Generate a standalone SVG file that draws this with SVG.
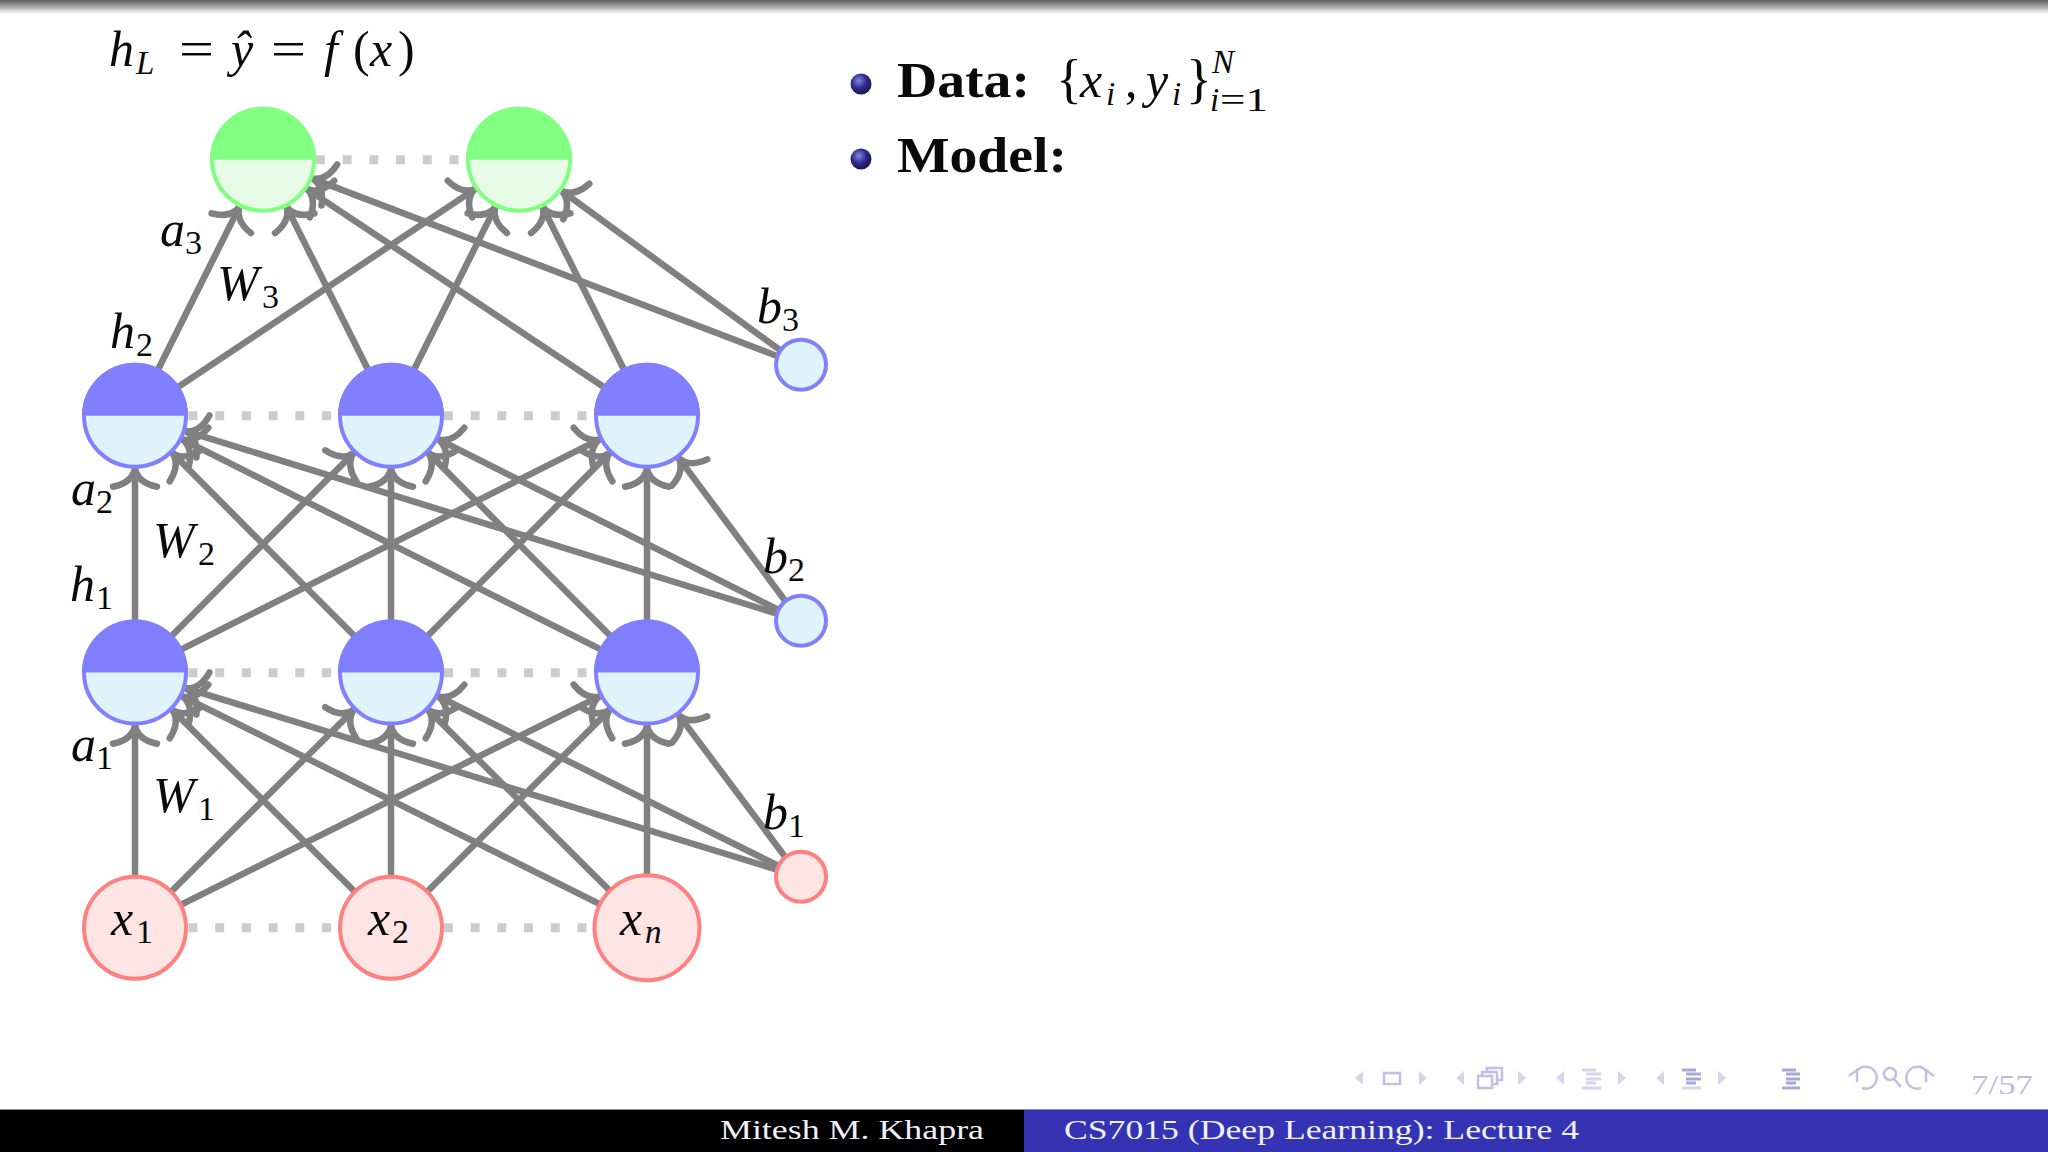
<svg xmlns="http://www.w3.org/2000/svg" width="2048" height="1152" viewBox="0 0 2048 1152">
<style>
text{font-family:"Liberation Serif","DejaVu Serif",serif;fill:#0a0a0a}
.m{font-style:italic;font-size:50px}
.r{font-size:50px}
.s{font-size:34px}
.si{font-size:33px;font-style:italic}
.b{font-weight:bold;font-size:50px}
.foot{font-size:28px;fill:#f0f0fa}
.edge line{stroke:#808080;stroke-width:6.5;fill:none;marker-end:url(#to)}
.dots line{stroke:#cccccc;stroke-width:9;stroke-dasharray:9 17.7}
.blue circle{fill:#dff3fd;stroke:#8080ff;stroke-width:4}
.blue path{fill:#8080ff}
.green circle{fill:#e6fce6;stroke:#80ff80;stroke-width:4}
.green path{fill:#80ff80}
.red circle{fill:#ffe4e4;stroke:#ff8080;stroke-width:4}
.nav{fill:#d4d4ec;stroke:none}
.navl{stroke:#d4d4ec;stroke-width:3;fill:none}
.navd{stroke:#a8a8d8;stroke-width:3;fill:none}
.navo{stroke:#c0c0e2;stroke-width:2.5;fill:none}
</style>
<defs>
<marker id="to" markerUnits="userSpaceOnUse" markerWidth="60" markerHeight="60" viewBox="-40 -30 50 60" refX="0" refY="0" orient="auto">
<path d="M-18,-22 Q-14,-3 0,0 Q-14,3 -18,22" fill="none" stroke="#808080" stroke-width="6.5" stroke-linecap="round" stroke-linejoin="round"/>
</marker>
<linearGradient id="top" x1="0" y1="0" x2="0" y2="1"><stop offset="0" stop-color="#5e5e5e"/><stop offset="0.5" stop-color="#a8a8a8"/><stop offset="1" stop-color="#ffffff"/></linearGradient>
<radialGradient id="ball" cx="0.4" cy="0.35" r="0.7"><stop offset="0" stop-color="#8888dd"/><stop offset="0.5" stop-color="#2c2c90"/><stop offset="1" stop-color="#14143c"/></radialGradient>
</defs>
<rect width="2048" height="1152" fill="#ffffff"/>
<rect id="topbar" width="2048" height="14" fill="url(#top)"/>

<g id="dotted" class="dots" transform="translate(0,0.7)">
<line x1="316" y1="159" x2="466" y2="159"/>
<line x1="188.5" y1="415" x2="338" y2="415"/>
<line x1="444" y1="415" x2="594" y2="415"/>
<line x1="188.5" y1="672" x2="338" y2="672"/>
<line x1="444" y1="672" x2="594" y2="672"/>
<line x1="188.5" y1="927" x2="338" y2="927"/>
<line x1="444" y1="927" x2="594" y2="927"/>
</g>

<g id="connectors" class="edge" transform="translate(0,0.7)">
<line x1="135" y1="927" x2="135" y2="725"/>
<line x1="135" y1="927" x2="353.5" y2="709.4"/>
<line x1="135" y1="927" x2="599.6" y2="695.6"/>
<line x1="391" y1="927" x2="172.5" y2="709.4"/>
<line x1="391" y1="927" x2="391" y2="725"/>
<line x1="391" y1="927" x2="609.5" y2="709.4"/>
<line x1="647" y1="927" x2="182.4" y2="695.6"/>
<line x1="647" y1="927" x2="428.5" y2="709.4"/>
<line x1="647" y1="927" x2="647" y2="725"/>
<line x1="800" y1="876" x2="185.7" y2="687.5"/>
<line x1="800" y1="876" x2="438.4" y2="695.7"/>
<line x1="800" y1="876" x2="678.8" y2="714.4"/>

<line x1="135" y1="672" x2="135" y2="468"/>
<line x1="135" y1="672" x2="353.5" y2="452.4"/>
<line x1="135" y1="672" x2="599.6" y2="438.6"/>
<line x1="391" y1="672" x2="172.5" y2="452.4"/>
<line x1="391" y1="672" x2="391" y2="468"/>
<line x1="391" y1="672" x2="609.5" y2="452.4"/>
<line x1="647" y1="672" x2="182.4" y2="438.6"/>
<line x1="647" y1="672" x2="428.5" y2="452.4"/>
<line x1="647" y1="672" x2="647" y2="468"/>
<line x1="800" y1="620" x2="185.7" y2="430.5"/>
<line x1="800" y1="620" x2="438.4" y2="438.7"/>
<line x1="800" y1="620" x2="678.8" y2="457.4"/>

<line x1="135" y1="415" x2="239.3" y2="206.4"/>
<line x1="391" y1="415" x2="286.7" y2="206.4"/>
<line x1="647" y1="415" x2="307.1" y2="188.4"/>
<line x1="800" y1="364" x2="312.5" y2="177.9"/>
<line x1="135" y1="415" x2="474.9" y2="188.4"/>
<line x1="391" y1="415" x2="495.3" y2="206.4"/>
<line x1="647" y1="415" x2="542.7" y2="206.4"/>
<line x1="800" y1="364" x2="561.8" y2="190.2"/>
</g>

<g id="output1" class="green"><circle cx="263" cy="159.7" r="51"/><path d="M210,159.7 A53,53 0 0 1 316,159.7 Z"/></g>
<g id="output2" class="green"><circle cx="519" cy="159.7" r="51"/><path d="M466,159.7 A53,53 0 0 1 572,159.7 Z"/></g>
<g id="h2-1" class="blue"><circle cx="135" cy="415.7" r="51"/><path d="M82,415.7 A53,53 0 0 1 188,415.7 Z"/></g>
<g id="h2-2" class="blue"><circle cx="391" cy="415.7" r="51"/><path d="M338,415.7 A53,53 0 0 1 444,415.7 Z"/></g>
<g id="h2-3" class="blue"><circle cx="647" cy="415.7" r="51"/><path d="M594,415.7 A53,53 0 0 1 700,415.7 Z"/></g>
<g id="h1-1" class="blue"><circle cx="135" cy="672.5" r="51"/><path d="M82,672.5 A53,53 0 0 1 188,672.5 Z"/></g>
<g id="h1-2" class="blue"><circle cx="391" cy="672.5" r="51"/><path d="M338,672.5 A53,53 0 0 1 444,672.5 Z"/></g>
<g id="h1-3" class="blue"><circle cx="647" cy="672.5" r="51"/><path d="M594,672.5 A53,53 0 0 1 700,672.5 Z"/></g>
<g id="b3" class="blue"><circle cx="801" cy="364.7" r="25"/></g>
<g id="b2" class="blue"><circle cx="801" cy="620.7" r="25"/></g>
<g id="b1" class="red"><circle cx="801" cy="876.7" r="25"/></g>
<g id="x1" class="red"><circle cx="135" cy="927.7" r="51"/><text class="m" x="111" y="935">x</text><text class="s" x="136" y="943">1</text></g>
<g id="x2" class="red"><circle cx="391" cy="927.7" r="51"/><text class="m" x="368" y="935">x</text><text class="s" x="392" y="943">2</text></g>
<g id="xn" class="red"><circle cx="647" cy="927.7" r="52.5"/><text class="m" x="620" y="935">x</text><text class="si" x="645" y="943">n</text></g>

<g id="labels">
<text class="m" x="109" y="66">h</text><text class="si" x="136" y="74">L</text>
<text class="r" x="179" y="66" textLength="35" lengthAdjust="spacingAndGlyphs">=</text>
<text class="m" x="231" y="66">ŷ</text>
<text class="r" x="271" y="66" textLength="35" lengthAdjust="spacingAndGlyphs">=</text>
<text class="m" x="324" y="66">f</text>
<text class="r" x="353" y="66">(</text>
<text class="m" x="370" y="66">x</text>
<text class="r" x="398" y="66">)</text>

<text class="m" x="160" y="246">a</text><text class="s" x="185" y="254">3</text>
<text class="m" x="217" y="300">W</text><text class="s" x="262" y="308">3</text>
<text class="m" x="110" y="348">h</text><text class="s" x="136" y="356">2</text>
<text class="m" x="757" y="323">b</text><text class="s" x="782" y="331">3</text>
<text class="m" x="71" y="505">a</text><text class="s" x="96" y="513">2</text>
<text class="m" x="153" y="557">W</text><text class="s" x="198" y="565">2</text>
<text class="m" x="70" y="601">h</text><text class="s" x="96" y="609">1</text>
<text class="m" x="763" y="573">b</text><text class="s" x="788" y="581">2</text>
<text class="m" x="71" y="761">a</text><text class="s" x="96" y="769">1</text>
<text class="m" x="153" y="812">W</text><text class="s" x="198" y="820">1</text>
<text class="m" x="763" y="829">b</text><text class="s" x="788" y="837">1</text>
</g>

<g id="bullets">
<circle cx="861" cy="84" r="10.5" fill="url(#ball)"/>
<circle cx="861" cy="159" r="10.5" fill="url(#ball)"/>
<text class="b" x="897" y="97" textLength="133" lengthAdjust="spacingAndGlyphs">Data:</text>
<text class="r" x="1056" y="97" style="font-size:54px">{</text>
<text class="m" x="1080" y="97">x</text><text class="si" x="1106" y="105">i</text>
<text class="r" x="1125" y="97">,</text>
<text class="m" x="1146" y="97">y</text><text class="si" x="1172" y="105">i</text>
<text class="r" x="1186" y="97" style="font-size:54px">}</text>
<text class="si" x="1212" y="73">N</text>
<text class="si" x="1210" y="111">i</text><text class="s" x="1220" y="111" textLength="48" lengthAdjust="spacingAndGlyphs" style="font-weight:normal">=1</text>
<text class="b" x="897" y="172" textLength="170" lengthAdjust="spacingAndGlyphs">Model:</text>
</g>

<g id="navigation">
<path class="nav" d="M1355,1078 L1363,1071 V1085 Z"/>
<rect class="navo" x="1384" y="1073" width="16" height="11"/>
<path class="nav" d="M1427,1078 L1419,1071 V1085 Z"/>
<path class="nav" d="M1456,1078 L1464,1071 V1085 Z"/>
<g class="navo"><rect x="1478" y="1076" width="14" height="12"/><path d="M1482,1076 V1072 H1497 V1084 H1492 M1487,1072 V1068 H1502 V1080 H1497"/></g>
<path class="nav" d="M1526,1078 L1518,1071 V1085 Z"/>
<path class="nav" d="M1556,1078 L1564,1071 V1085 Z"/>
<path class="navl" d="M1582,1070 H1596 M1586,1074 H1601 M1586,1079 H1601 M1586,1083 H1596 M1582,1088 H1601"/>
<path class="nav" d="M1626,1078 L1618,1071 V1085 Z"/>
<path class="nav" d="M1656,1078 L1664,1071 V1085 Z"/>
<path class="navd" d="M1682,1070 H1696 M1686,1074 H1701 M1686,1079 H1701 M1686,1083 H1696" />
<path class="navl" d="M1682,1088 H1701"/>
<path class="nav" d="M1726,1078 L1718,1071 V1085 Z"/>
<path class="navd" d="M1782,1070 H1796 M1786,1074 H1800 M1786,1079 H1800 M1786,1083 H1796 M1782,1088 H1800"/>
<path class="navo" d="M1849,1076 L1857,1070 L1857,1082 M1857,1071 A11,11 0 1 1 1862,1088"/>
<circle class="navo" cx="1890" cy="1074" r="6"/><path class="navo" d="M1894,1079 L1901,1087"/>
<path class="navo" d="M1934,1076 L1926,1070 L1926,1082 M1926,1071 A11,11 0 1 0 1921,1088"/>
<text x="1971" y="1094" font-size="28" style="fill:#bcbce0" textLength="62" lengthAdjust="spacingAndGlyphs">7/57</text>
</g>

<g id="footer">
<rect x="0" y="1109" width="2048" height="1.5" fill="#8a8ab0"/>
<rect x="0" y="1110" width="1024" height="42" fill="#000000"/>
<rect x="1024" y="1110" width="1024" height="42" fill="#3333b3"/>
<text class="foot" x="720" y="1139" textLength="264" lengthAdjust="spacingAndGlyphs">Mitesh M. Khapra</text>
<text class="foot" x="1064" y="1139" textLength="515" lengthAdjust="spacingAndGlyphs">CS7015 (Deep Learning): Lecture 4</text>
</g>
</svg>
